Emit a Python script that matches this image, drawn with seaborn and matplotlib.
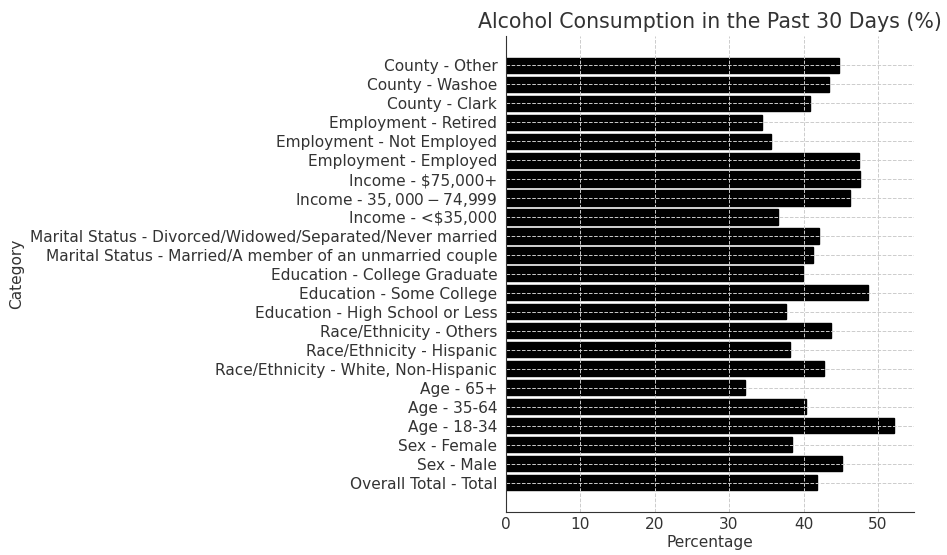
import pandas as pd
import seaborn as sns
import matplotlib.pyplot as plt

# survey order, first item ends up at the bottom
categories = [
    "Overall Total - Total",
    "Sex - Male",
    "Sex - Female",
    "Age - 18-34",
    "Age - 35-64",
    "Age - 65+",
    "Race/Ethnicity - White, Non-Hispanic",
    "Race/Ethnicity - Hispanic",
    "Race/Ethnicity - Others",
    "Education - High School or Less",
    "Education - Some College",
    "Education - College Graduate",
    "Marital Status - Married/A member of an unmarried couple",
    "Marital Status - Divorced/Widowed/Separated/Never married",
    "Income - <$35,000",
    "Income - $35,000-$74,999",
    "Income - $75,000+",
    "Employment - Employed",
    "Employment - Not Employed",
    "Employment - Retired",
    "County - Clark",
    "County - Washoe",
    "County - Other",
]
percentages = [
    41.8, 45.2, 38.4, 52.2, 40.3, 32.1, 42.8, 38.2, 43.7, 37.6, 48.6, 39.9,
    41.3, 42.1, 36.6, 46.2, 47.6, 47.4, 35.6, 34.4, 40.8, 43.4, 44.7,
]

df = pd.DataFrame({"Category": categories, "Percentage": percentages})

sns.set_style("white")
plt.rcParams["font.family"] = ["DejaVu Sans"]
plt.rcParams["text.color"] = "#333333"
plt.rcParams["axes.labelcolor"] = "#333333"
plt.rcParams["xtick.color"] = "#333333"
plt.rcParams["ytick.color"] = "#333333"

fig = plt.figure(figsize=(9.47, 5.55), dpi=100)
ax = fig.add_axes([0.534, 0.078, 0.431, 0.857])
sns.barplot(data=df, x="Percentage", y="Category", orient="h",
            color="black", edgecolor="black", saturation=1, width=0.8, ax=ax)

n = len(categories)
ax.set_ylim(-1.54, n - 1 + 1.54)
ax.set_xlim(0, max(percentages) * 1.05)

ax.grid(True, linestyle="--", color="#cccccc", linewidth=0.7)
ax.set_axisbelow(False)
sns.despine(ax=ax)
for s in ["left", "bottom"]:
    ax.spines[s].set_color("#333333")
    ax.spines[s].set_zorder(5)
ax.tick_params(axis="y", length=0, labelsize=11.1, pad=6)
ax.tick_params(axis="x", length=0, labelsize=11.1, pad=4)

ax.set_title("Alcohol Consumption in the Past 30 Days (%)", fontsize=14.8)
ax.set_xlabel("Percentage", fontsize=11.1, labelpad=2)
ax.set_ylabel("Category", fontsize=11.1)

fig.savefig("out.png", dpi=100)
plt.close(fig)
